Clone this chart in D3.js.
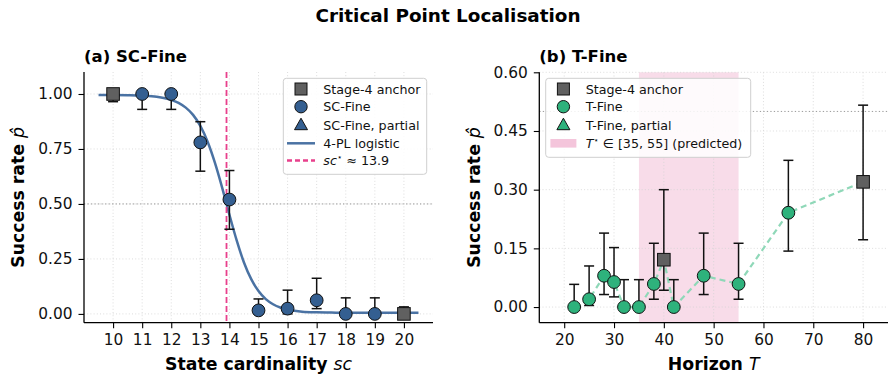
<!DOCTYPE html>
<html><head><meta charset="utf-8">
<script src="https://cdn.jsdelivr.net/npm/d3@7/dist/d3.min.js"></script>
<style>body{margin:0;background:#fff}svg{display:block;font-family:"DejaVu Sans",sans-serif}</style>
</head><body><svg id="c" width="896" height="381"></svg>
<script>
// ---------- data: panel (a) SC-Fine ----------
const scAnchorX = [10, 20];
const scAnchorP = [1.00, 0.00];
const scAnchorLo = [0.965, 0.00];
const scAnchorHi = [1.00, 0.032];
const scFineX = [11, 12, 13, 14, 15, 16, 17, 18, 19];
const scFineP = [1.00, 1.00, 0.78, 0.52, 0.016, 0.024, 0.062, 0.00, 0.00];
const scFineLo = [0.93, 0.93, 0.649, 0.385, 0.00, 0.00, 0.024, 0.00, 0.00];
const scFineHi = [1.00, 1.00, 0.874, 0.652, 0.068, 0.108, 0.162, 0.073, 0.073];
const scPartialX = [];
const scPartialP = [];
const logisticX = [9.5,10,10.5,11,11.5,12,12.25,12.5,12.75,13,13.25,13.5,13.75,13.875,14,14.25,14.5,14.75,15,15.25,15.5,15.75,16,16.5,17,17.5,18,19,20,20.5];
const logisticY = [0.995,0.995,0.994,0.992,0.987,0.973,0.960,0.938,0.905,0.855,0.783,0.688,0.574,0.512,0.451,0.334,0.234,0.158,0.104,0.067,0.044,0.029,0.020,0.010,0.007,0.006,0.005,0.005,0.005,0.005];
const scStar = 13.9;
const scTicksX = [10,11,12,13,14,15,16,17,18,19,20];
const scTicksY = [0.00,0.25,0.50,0.75,1.00];

// ---------- data: panel (b) T-Fine ----------
const tAnchorX = [40, 80];
const tAnchorP = [0.121, 0.320];
const tAnchorLo = [0.043, 0.172];
const tAnchorHi = [0.300, 0.516];
const tFineX = [22, 25, 28, 30, 32, 35, 38, 42, 48, 55, 65];
const tFineP = [0.00, 0.020, 0.080, 0.064, 0.00, 0.00, 0.059, 0.00, 0.080, 0.059, 0.241];
const tFineLo = [0.00, 0.004, 0.032, 0.026, 0.00, 0.00, 0.020, 0.00, 0.032, 0.020, 0.143];
const tFineHi = [0.058, 0.105, 0.189, 0.152, 0.070, 0.070, 0.163, 0.070, 0.189, 0.163, 0.375];
const tPartialX = [];
const tPartialP = [];
const tPredicted = [35, 55];
const tTicksX = [20,30,40,50,60,70,80];
const tTicksY = [0.00,0.15,0.30,0.45,0.60];
const refLine = 0.5;

// ---------- styles ----------
const C = {blue:"#345f91", blueLine:"#4a72a3", green:"#2eb27c", greenLine:"#8fd8b8",
  anchor:"#606060", pink:"#e8408c", span:"#f8dce9", spanLeg:"#f4c5db", grid:"#d4d4d4", ref:"#9a9a9a"};
const svg = d3.select("#c");
const tickFont = 15.4, legFont = 12.7;

svg.append("text").attr("x",448).attr("y",21.5).attr("text-anchor","middle")
  .attr("font-size",18.4).attr("font-weight","bold").text("Critical Point Localisation");

function panel(o){
  const g = svg.append("g");
  const x = d3.scaleLinear().domain(o.xd).range([o.x0,o.x1]);
  const y = d3.scaleLinear().domain(o.yd).range([o.yb,o.yt]);
  // span
  if (o.span) g.append("rect").attr("x",x(o.span[0])).attr("width",x(o.span[1])-x(o.span[0]))
      .attr("y",o.yt).attr("height",o.yb-o.yt).attr("fill",C.span);
  // grid
  const gg = g.append("g").attr("stroke",C.grid).attr("stroke-width",0.8).attr("stroke-dasharray","1,2.2");
  o.tx.forEach(t=>gg.append("line").attr("x1",x(t)).attr("x2",x(t)).attr("y1",o.yt).attr("y2",o.yb));
  o.ty.forEach(t=>gg.append("line").attr("x1",o.x0).attr("x2",o.x1).attr("y1",y(t)).attr("y2",y(t)));
  // ref line
  g.append("line").attr("x1",o.x0).attr("x2",o.x1).attr("y1",y(refLine)).attr("y2",y(refLine))
    .attr("stroke",C.ref).attr("stroke-width",1).attr("stroke-dasharray","1.3,2.2");
  // axes
  const ax = d3.axisBottom(x).tickValues(o.tx).tickSize(5.5).tickPadding(6).tickFormat(d3.format("d"));
  const ay = d3.axisLeft(y).tickValues(o.ty).tickSize(5.5).tickPadding(6).tickFormat(d3.format(".2f"));
  const gx = g.append("g").attr("transform",`translate(0,${o.yb})`).call(ax);
  const gy = g.append("g").attr("transform",`translate(${o.x0},0)`).call(ay);
  [gx,gy].forEach(a=>{
    a.select(".domain").remove();
    a.selectAll("line").attr("stroke","#000").attr("stroke-width",1.1);
    a.selectAll("text").attr("font-size",tickFont).attr("font-family","DejaVu Sans").attr("fill","#111");
  });
  g.append("line").attr("x1",o.x0).attr("x2",o.x1).attr("y1",o.yb).attr("y2",o.yb).attr("stroke","#000").attr("stroke-width",1.3);
  g.append("line").attr("x1",o.x0).attr("x2",o.x0).attr("y1",o.yt).attr("y2",o.yb).attr("stroke","#000").attr("stroke-width",1.3);
  // titles
  g.append("text").attr("x",o.x0).attr("y",62).attr("font-size",16.5).attr("font-weight","bold").text(o.title);
  const xl = g.append("text").attr("x",(o.x0+o.x1)/2).attr("y",370).attr("text-anchor","middle")
    .attr("font-size",17.3).attr("font-weight","bold");
  xl.append("tspan").text(o.xlab);
  xl.append("tspan").attr("font-style","italic").attr("font-weight","normal").text(o.xlabMath);
  const yl = g.append("text").attr("transform",`translate(${o.ylx},${(o.yt+o.yb)/2}) rotate(-90)`)
    .attr("text-anchor","middle").attr("font-size",17.3).attr("font-weight","bold");
  yl.append("tspan").text("Success rate ");
  yl.append("tspan").attr("font-style","italic").attr("font-weight","normal").text("p\u0302");
  return {g,x,y};
}

function errbars(g,x,y,xs,lo,hi){
  const e = g.append("g").attr("stroke","#111").attr("stroke-width",1.5);
  xs.forEach((v,i)=>{
    e.append("line").attr("x1",x(v)).attr("x2",x(v)).attr("y1",y(lo[i])).attr("y2",y(hi[i]));
    [lo[i],hi[i]].forEach(b=>e.append("line").attr("x1",x(v)-5).attr("x2",x(v)+5).attr("y1",y(b)).attr("y2",y(b)));
  });
}
function squares(g,x,y,xs,ps){
  g.selectAll(null).data(xs).enter().append("rect")
    .attr("x",(d)=>x(d)-6.3).attr("y",(d,i)=>y(ps[i])-6.3).attr("width",12.6).attr("height",12.6)
    .attr("fill",C.anchor).attr("stroke","#111").attr("stroke-width",1);
}
function circles(g,x,y,xs,ps,col){
  g.selectAll(null).data(xs).enter().append("circle")
    .attr("cx",d=>x(d)).attr("cy",(d,i)=>y(ps[i])).attr("r",6.4)
    .attr("fill",col).attr("stroke","#111").attr("stroke-width",1);
}
function triangles(g,x,y,xs,ps,col){
  g.selectAll(null).data(xs).enter().append("path")
    .attr("d",(d,i)=>`M${x(d)},${y(ps[i])-7}l6.5,11.5h-13z`)
    .attr("fill",col).attr("stroke","#111").attr("stroke-width",1);
}

function legend(g,lx,ly,w,h,entries){
  const L = g.append("g");
  L.append("rect").attr("x",lx).attr("y",ly).attr("width",w).attr("height",h).attr("rx",3)
    .attr("fill","#fff").attr("fill-opacity",0.85).attr("stroke","#cfcfcf").attr("stroke-width",1);
  const rows = [89,106.7,125.2,143.3,160.5];
  entries.forEach((e,i)=>{
    const cy = rows[i], mx = lx+17.7, tx = lx+40;
    if(e.type==="square") L.append("rect").attr("x",mx-6).attr("y",cy-6).attr("width",12).attr("height",12).attr("fill",e.col).attr("stroke","#111");
    if(e.type==="circle") L.append("circle").attr("cx",mx).attr("cy",cy).attr("r",6.2).attr("fill",e.col).attr("stroke","#111");
    if(e.type==="tri") L.append("path").attr("d",`M${mx},${cy-7}l6.5,11.5h-13z`).attr("fill",e.col).attr("stroke","#111");
    if(e.type==="line") L.append("line").attr("x1",mx-14).attr("x2",mx+14).attr("y1",cy).attr("y2",cy).attr("stroke",e.col).attr("stroke-width",2.5).attr("stroke-dasharray",e.dash||null);
    if(e.type==="patch") L.append("rect").attr("x",mx-13).attr("y",cy-4.3).attr("width",26).attr("height",8.6).attr("fill",e.col);
    const t = L.append("text").attr("x",tx).attr("y",cy+4.5).attr("font-size",legFont).attr("fill","#111");
    e.parts.forEach(p=>{
      const s = t.append("tspan").text(p.t);
      if(p.it) s.attr("font-style","italic");
      if(p.sup) s.attr("font-size",8.5).attr("dy",-5);
      if(p.down) s.attr("dy",5);
    });
  });
}

// ---------- panel (a) ----------
const A = panel({xd:[9,21],yd:[-0.04,1.10],x0:84,x1:433,yt:72,yb:322.7,tx:scTicksX,ty:scTicksY,
  title:"(a) SC-Fine",xlab:"State cardinality ",xlabMath:"sc",ylx:24});
A.g.append("path").datum(logisticX.map((v,i)=>[v,logisticY[i]]))
  .attr("d",d3.line().x(d=>A.x(d[0])).y(d=>A.y(d[1])).curve(d3.curveMonotoneX))
  .attr("fill","none").attr("stroke",C.blueLine).attr("stroke-width",2.5);
A.g.append("line").attr("x1",A.x(scStar)).attr("x2",A.x(scStar)).attr("y1",72).attr("y2",322.7)
  .attr("stroke",C.pink).attr("stroke-width",1.8).attr("stroke-dasharray","6,3");
errbars(A.g,A.x,A.y,scAnchorX,scAnchorLo,scAnchorHi);
errbars(A.g,A.x,A.y,scFineX,scFineLo,scFineHi);
squares(A.g,A.x,A.y,scAnchorX,scAnchorP);
circles(A.g,A.x,A.y,scFineX,scFineP,C.blue);
triangles(A.g,A.x,A.y,scPartialX,scPartialP,C.blue);
legend(A.g,283.3,78.3,143.4,96,[
  {type:"square",col:C.anchor,parts:[{t:"Stage-4 anchor"}]},
  {type:"circle",col:C.blue,parts:[{t:"SC-Fine"}]},
  {type:"tri",col:C.blue,parts:[{t:"SC-Fine, partial"}]},
  {type:"line",col:C.blueLine,parts:[{t:"4-PL logistic"}]},
  {type:"line",col:C.pink,dash:"5,3",parts:[{t:"sc",it:true},{t:"\u22C6",sup:true},{t:" \u2248 13.9",down:true}]}
]);

// ---------- panel (b) ----------
const B = panel({xd:[15,85],yd:[-0.04,0.60],x0:539.3,x1:888,yt:72.3,yb:322.7,tx:tTicksX,ty:tTicksY,
  title:"(b) T-Fine",xlab:"Horizon ",xlabMath:"T",ylx:480,span:tPredicted});
const allT = tFineX.map((v,i)=>[v,tFineP[i]]).concat(tAnchorX.map((v,i)=>[v,tAnchorP[i]])).sort((a,b)=>a[0]-b[0]);
B.g.append("path").datum(allT).attr("d",d3.line().x(d=>B.x(d[0])).y(d=>B.y(d[1])))
  .attr("fill","none").attr("stroke",C.greenLine).attr("stroke-width",2.2).attr("stroke-dasharray","6,4");
errbars(B.g,B.x,B.y,tAnchorX,tAnchorLo,tAnchorHi);
errbars(B.g,B.x,B.y,tFineX,tFineLo,tFineHi);
squares(B.g,B.x,B.y,tAnchorX,tAnchorP);
circles(B.g,B.x,B.y,tFineX,tFineP,C.green);
triangles(B.g,B.x,B.y,tPartialX,tPartialP,C.green);
legend(B.g,545.7,78.3,205,79,[
  {type:"square",col:C.anchor,parts:[{t:"Stage-4 anchor"}]},
  {type:"circle",col:C.green,parts:[{t:"T-Fine"}]},
  {type:"tri",col:C.green,parts:[{t:"T-Fine, partial"}]},
  {type:"patch",col:C.spanLeg,parts:[{t:"T",it:true},{t:"\u22C6",sup:true},{t:" \u2208 [35, 55]",down:true},{t:" (predicted)"}]}
]);
</script></body></html>
